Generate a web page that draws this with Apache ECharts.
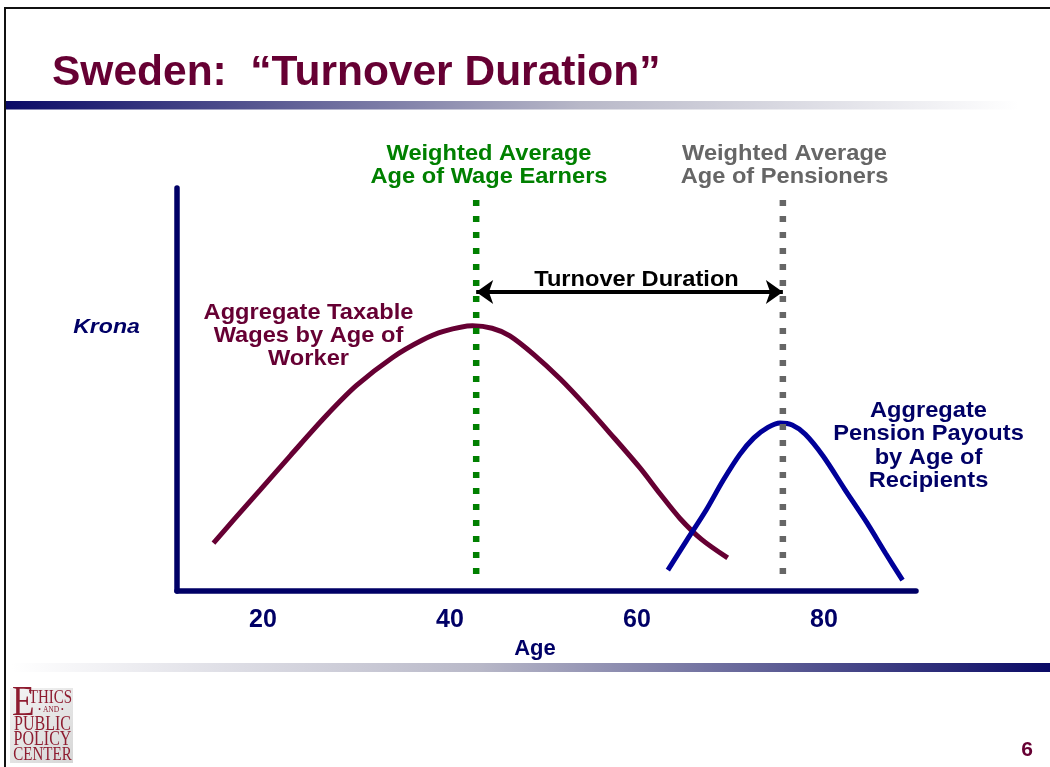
<!DOCTYPE html>
<html>
<head>
<meta charset="utf-8">
<title>Sweden: Turnover Duration</title>
<script src="https://cdn.jsdelivr.net/npm/echarts@6.0.0/dist/echarts.min.js"></script>
<style>
	html, body { margin: 0; padding: 0; background: #fff; }
	#chart { width: 1050px; height: 767px; }
</style>
</head>
<body>
<div id="chart"></div>
<script>
// 横轴刻度 tick labels on the age axis
var ageTicks = [20, 40, 60, 80]
// 工资曲线 aggregate taxable wages by age of worker
var wageAge = [14.7, 17, 19.7, 23, 26.8, 30, 33.9, 37, 39.3, 42.4, 44.5, 46.4, 49, 51.8, 54.5, 57.1, 60.3, 62.5, 64.6, 66.9, 69.7]
var wageVal = [11.9, 18.0, 25.1, 33.8, 43.6, 51.0, 58.0, 62.2, 64.4, 65.8, 65.2, 63.3, 58.6, 52.6, 46.0, 39.2, 30.6, 24.0, 18.0, 12.8, 8.2]
// 养老金曲线 aggregate pension payouts by age of recipients
var pensionAge = [63.3, 65.3, 67.4, 69.2, 71.0, 72.5, 74.0, 75.3, 76.6, 78.0, 79.9, 82.2, 84.6, 86.6, 88.4]
var pensionVal = [5.2, 12.5, 20.1, 27.4, 33.9, 38.0, 40.6, 41.7, 41.2, 38.9, 33.5, 25.3, 16.9, 9.3, 2.7]
// 加权平均年龄 weighted average ages (the two dotted lines)
var avgWageAge = 42.8
var avgPensionAge = 75.6
var markerRange = [97, 4.1]
var arrowLevel = 74.2

var navy = '#000066'
var maroon = '#660033'

function pairs(xs, ys) {
	var out = []
	for (var i = 0; i < xs.length; i++) {
		out.push([xs[i], ys[i]])
	}
	return out
}

// 文字 helper for the free text on the slide
function label(x, y, str, color, font, sx) {
	return {
		type: 'text',
		x: x,
		y: y,
		scaleX: sx || 1,
		silent: true,
		style: {
			text: str,
			fill: color,
			font: font,
			align: 'center',
			verticalAlign: 'middle',
			textAlign: 'center',
			textVerticalAlign: 'middle',
			lineHeight: 23.3
		}
	}
}

var bold = 'bold 21.5px "Liberation Sans", Arial, sans-serif'
var serif = '"Liberation Serif", "DejaVu Serif", serif'

// 标志里的一行字 one line of the logo
function logoLine(x, y, str, size, sy, align) {
	return {
		type: 'text', x: x, y: y, scaleY: sy, silent: true,
		style: { text: str, fill: '#8e1c30', font: size + 'px ' + serif,
			align: align || 'center', verticalAlign: 'middle', textAlign: align || 'center', textVerticalAlign: 'middle' }
	}
}

var graphics = [
	// 边框 slide frame
	{ type: 'rect', shape: { x: 4, y: 7, width: 1046, height: 2 }, style: { fill: '#111' }, silent: true },
	{ type: 'rect', shape: { x: 4, y: 7, width: 2, height: 760 }, style: { fill: '#111' }, silent: true },
	// 标题下的渐变条 gradient bars
	{ type: 'rect', shape: { x: 6, y: 101, width: 1044, height: 8.5 }, silent: true,
		style: { fill: new echarts.graphic.LinearGradient(0, 0, 1, 0, [
			{ offset: 0, color: '#0a0a66' }, { offset: 0.55, color: '#b8b8c8' }, { offset: 0.97, color: '#ffffff' }]) } },
	{ type: 'rect', shape: { x: 12, y: 663, width: 1038, height: 9 }, silent: true,
		style: { fill: new echarts.graphic.LinearGradient(0, 0, 1, 0, [
			{ offset: 0, color: '#ffffff' }, { offset: 0.45, color: '#b8b8c8' }, { offset: 1, color: '#0a0a66' }]) } },
	// 标题 title
	{ type: 'text', x: 52, y: 95, silent: true,
		style: { text: 'Sweden:  \u201cTurnover Duration\u201d', fill: maroon, font: 'bold 42.5px "Liberation Sans", Arial, sans-serif',
			align: 'left', verticalAlign: 'bottom', textAlign: 'left', textVerticalAlign: 'bottom' } },
	label(106.5, 327, 'Krona', navy, 'italic bold 21px "Liberation Sans", Arial, sans-serif', 1.1),
	label(489, 165.5, 'Weighted Average\nAge of Wage Earners', '#008000', bold, 1.1),
	label(784.5, 165.5, 'Weighted Average\nAge of Pensioners', '#666666', bold, 1.1),
	label(636.5, 280, 'Turnover Duration', '#000000', bold, 1.1),
	label(308.5, 336, 'Aggregate Taxable\nWages by Age of\nWorker', maroon, bold, 1.1),
	label(928.5, 446, 'Aggregate\nPension Payouts\nby Age of\nRecipients', navy, bold, 1.1),
	// 页码 page number
	label(1027, 750, '6', maroon, 'bold 21px "Liberation Sans", Arial, sans-serif', 1),
	// 标志 logo
	{ type: 'rect', shape: { x: 10, y: 688, width: 63, height: 75 }, silent: true,
		style: { fill: new echarts.graphic.LinearGradient(0, 0, 1, 1, [
			{ offset: 0, color: '#f4f4f4' }, { offset: 1, color: '#d6d6d6' }]) } },
	logoLine(12, 704, 'E', 37, 1.15, 'left'),
	logoLine(50.5, 697.5, 'THICS', 15, 1.3),
	logoLine(51, 710, '\u2022 AND \u2022', 7.5, 1),
	logoLine(42.5, 724.5, 'PUBLIC', 16, 1.25),
	logoLine(42.5, 740, 'POLICY', 16, 1.25),
	logoLine(42.5, 755.5, 'CENTER', 15, 1.25)
]

var myChart = echarts.init(document.getElementById('chart'))

var option = {
	animation: false,
	grid: { left: 177, right: 134, top: 188, bottom: 176, containLabel: false },
	xAxis: {
		type: 'value',
		min: 10.8,
		max: 89.84,
		name: 'Age',
		nameLocation: 'middle',
		nameGap: 41,
		nameTextStyle: { color: navy, fontWeight: 'bold', fontSize: 22, fontFamily: '"Liberation Sans", Arial', padding: [0, 23, 0, 0] },
		axisLine: { show: true, lineStyle: { color: navy, width: 5.5 } },
		axisTick: { show: false },
		splitLine: { show: false },
		axisLabel: {
			customValues: ageTicks,
			color: navy,
			fontWeight: 'bold',
			fontSize: 25,
			fontFamily: '"Liberation Sans", Arial',
			margin: 17
		}
	},
	yAxis: {
		type: 'value',
		min: 0,
		max: 100,
		axisLine: { show: true, lineStyle: { color: navy, width: 5.5 } },
		axisTick: { show: false },
		axisLabel: { show: false },
		splitLine: { show: false }
	},
	graphic: graphics,
	series: [
		{
			name: 'Aggregate Taxable Wages by Age of Worker',
			type: 'line',
			data: pairs(wageAge, wageVal),
			smooth: 0.3,
			showSymbol: false,
			lineStyle: { color: maroon, width: 5 },
			z: 2
		},
		{
			name: 'Aggregate Pension Payouts by Age of Recipients',
			type: 'line',
			data: pairs(pensionAge, pensionVal),
			smooth: 0.3,
			showSymbol: false,
			lineStyle: { color: '#000099', width: 5 },
			z: 2
		},
		{
			name: 'Weighted Average Age of Wage Earners',
			type: 'line',
			data: [[avgWageAge, markerRange[0]], [avgWageAge, markerRange[1]]],
			showSymbol: false,
			lineStyle: { color: '#008000', width: 6.5, type: [6, 10], cap: 'butt' },
			z: 3,
			// 周转期箭头 turnover duration arrow
			markLine: {
				silent: true,
				symbol: ['arrow', 'arrow'],
				symbolSize: [18, 17],
				label: { show: false },
				lineStyle: { color: '#000000', width: 4, type: 'solid' },
				data: [[{ coord: [avgWageAge, arrowLevel] }, { coord: [avgPensionAge, arrowLevel] }]]
			}
		},
		{
			name: 'Weighted Average Age of Pensioners',
			type: 'line',
			data: [[avgPensionAge, markerRange[0]], [avgPensionAge, markerRange[1]]],
			showSymbol: false,
			lineStyle: { color: '#666666', width: 6.5, type: [6, 10], cap: 'butt' },
			z: 3
		}
	]
}

myChart.setOption(option)
</script>
</body>
</html>
